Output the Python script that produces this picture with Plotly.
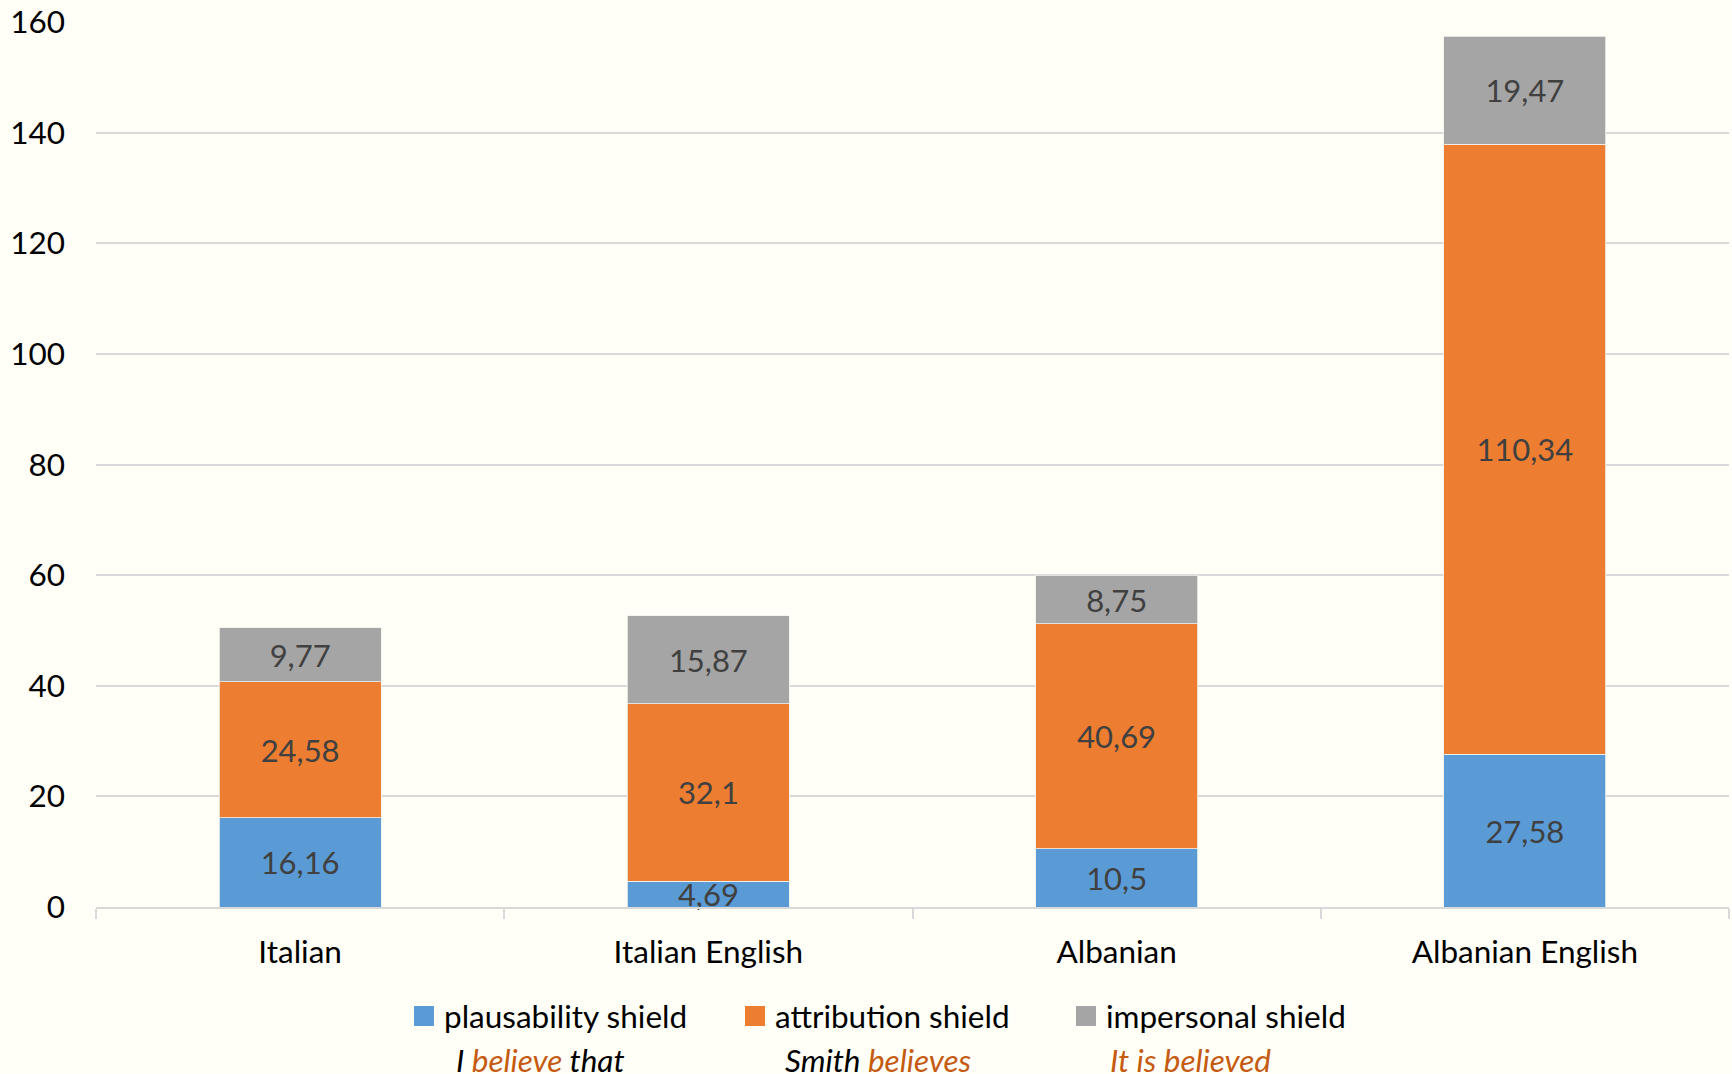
import plotly.graph_objects as go

# Hedging categories per corpus
categories = ["Italian", "Italian English", "Albanian", "Albanian English"]

plausibility = [16.16, 4.69, 10.5, 27.58]
attribution = [24.58, 32.1, 40.69, 110.34]
impersonal = [9.77, 15.87, 8.75, 19.47]

series_names = ["plausability shield", "attribution shield", "impersonal shield"]
series_values = [plausibility, attribution, impersonal]
series_colors = ["#5B9BD5", "#ED7D31", "#A5A5A5"]

y_ticks = [0, 20, 40, 60, 80, 100, 120, 140, 160]

FONT = "Lato"
FS = 31.5
BG = "#FFFFF7"


def fmt(v):
    return str(v).replace(".", ",")


fig = go.Figure()

for name, vals, color in zip(series_names, series_values, series_colors):
    fig.add_trace(go.Bar(
        x=categories,
        y=vals,
        name=name,
        marker=dict(color=color, line=dict(color="#F2F2EC", width=0.8)),
        text=[fmt(v) for v in vals],
        textposition="inside",
        insidetextanchor="middle",
        constraintext="none",
        textfont=dict(family=FONT, size=31, color="#404040"),
        cliponaxis=False,
        showlegend=False,
    ))

# Legend entries with larger square swatches
for name, color in zip(series_names, series_colors):
    fig.add_trace(go.Scatter(
        x=[None], y=[None], mode="markers", name=name,
        marker=dict(symbol="square", size=16, color=color,
                    line=dict(color=color, width=4)),
        showlegend=True,
    ))

# Example phrases under each legend entry
examples = [
    ("<i>I <span style='color:#C55A11'>believe</span> that</i>", 0.2719),
    ("<i>Smith <span style='color:#C55A11'>believes</span></i>", 0.4789),
    ("<i><span style='color:#C55A11'>It is believed</span></i>", 0.670),
]
for txt, xp in examples:
    fig.add_annotation(
        text=txt, x=xp, y=-0.1966, xref="paper", yref="paper",
        xanchor="center", yanchor="bottom", showarrow=False,
        font=dict(family=FONT, size=FS, color="#000000"),
    )

fig.update_layout(
    barmode="stack",
    bargap=0.603,
    width=1732,
    height=1074,
    margin=dict(l=96, r=3, t=22, b=167),
    paper_bgcolor=BG,
    plot_bgcolor=BG,
    font=dict(family=FONT, size=FS, color="#000000"),
    legend=dict(
        orientation="h",
        traceorder="normal",
        x=0.1886, xanchor="left",
        y=-0.1232, yanchor="middle",
        font=dict(family=FONT, size=FS, color="#000000"),
        bgcolor="rgba(0,0,0,0)",
        itemsizing="trace",
        entrywidth=286,
        entrywidthmode="pixels",
    ),
    xaxis=dict(
        type="category",
        showline=True,
        linecolor="#D9D9D9",
        linewidth=2,
        ticks="outside",
        tickson="boundaries",
        ticklen=10,
        tickcolor="#D9D9D9",
        tickwidth=2,
        ticklabelstandoff=16,
        showgrid=False,
        tickfont=dict(family=FONT, size=FS, color="#000000"),
    ),
    yaxis=dict(
        range=[0, 160],
        tickvals=y_ticks,
        showgrid=True,
        gridcolor="#D9D9D9",
        gridwidth=2,
        zeroline=False,
        showline=False,
        ticks="",
        ticklabelstandoff=30,
        tickfont=dict(family=FONT, size=FS, color="#000000"),
    ),
)

fig.write_html("out.html")
